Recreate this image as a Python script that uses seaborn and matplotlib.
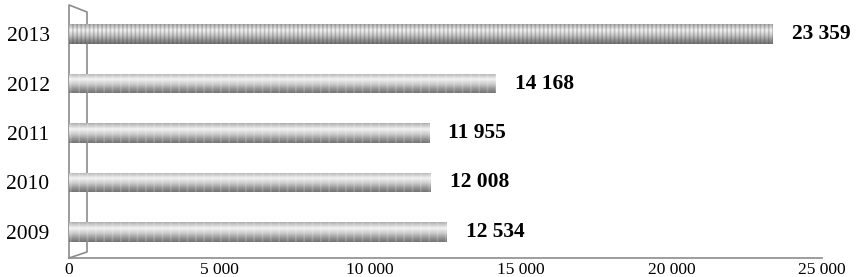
import matplotlib
matplotlib.use("Agg")
import matplotlib.pyplot as plt
import seaborn as sns
import numpy as np
import pandas as pd

years = ["2013", "2012", "2011", "2010", "2009"]
values = [23359, 14168, 11955, 12008, 12534]
x_ticks = [0, 5000, 10000, 15000, 20000, 25000]


def fmt(v):
    return f"{v:,}".replace(",", " ")


sns.set_style("white")
plt.rcParams["font.family"] = ["Liberation Serif", "DejaVu Serif"]
plt.rcParams["hatch.linewidth"] = 1.2
plt.rcParams["text.color"] = "black"
plt.rcParams["xtick.color"] = "black"
plt.rcParams["ytick.color"] = "black"

df = pd.DataFrame({"Year": years, "Value": values})

fig = plt.figure(figsize=(8.57, 2.77), dpi=100)
ax = fig.add_axes([0.0805, 0.0686, 0.8786, 0.9134])

sns.barplot(data=df, y="Year", x="Value", orient="y", color="#b0b0b0",
            width=0.4, ax=ax)

# cylinder-like shading: vertical gradient clipped to each bar
t = np.linspace(0, 1, 80)
shade = np.interp(t, [0, 0.3, 0.55, 0.8, 1], [0.68, 0.95, 0.8, 0.58, 0.45])
img = np.repeat(shade[:, None], 2, axis=1)
for i, p in enumerate(ax.patches):
    x0, y0 = p.get_x(), p.get_y()
    w, h = p.get_width(), p.get_height()
    im = ax.imshow(img, cmap="gray", vmin=0, vmax=1, aspect="auto",
                   extent=[x0, x0 + w, y0 + h, y0], zorder=1,
                   interpolation="bilinear")
    im.set_clip_path(p)
    p.set_facecolor("none")
    p.set_linewidth(0)
    if i == 0:
        p.set_edgecolor((0.2, 0.2, 0.2, 0.22))
        p.set_hatch("||||")
    else:
        p.set_edgecolor((1, 1, 1, 0.18))
        p.set_hatch("||")
    p.set_zorder(2)

ax.set_xlim(0, 25000)
ax.set_ylim(4.53, -0.59)
ax.set_xticks(x_ticks)
ax.set_xticklabels([fmt(t) for t in x_ticks], fontsize=12.5)
ax.tick_params(axis="y", labelsize=15.5, pad=14, length=0)
ax.tick_params(axis="x", length=0, pad=3)
ax.set_xlabel("")
ax.set_ylabel("")

for s in ["top", "right", "left"]:
    ax.spines[s].set_visible(False)
ax.spines["bottom"].set_color("#8c8c8c")
ax.spines["bottom"].set_linewidth(1.2)

# 3D side wall
dx, dtop, dbot = 18 / 753, 7 / 253, 6 / 253
ax.plot([0, 0, dx, dx, 0], [0, 1, 1 - dtop, dbot, 0],
        transform=ax.transAxes, color="#8c8c8c", lw=1.2, clip_on=False,
        zorder=0)

for i, v in enumerate(values):
    ax.annotate(fmt(v), xy=(v, i), xytext=(14, 0), textcoords="offset points",
                va="center", ha="left", fontsize=15.5, fontweight="bold",
                color="black")

fig.savefig("out.png", dpi=100)
